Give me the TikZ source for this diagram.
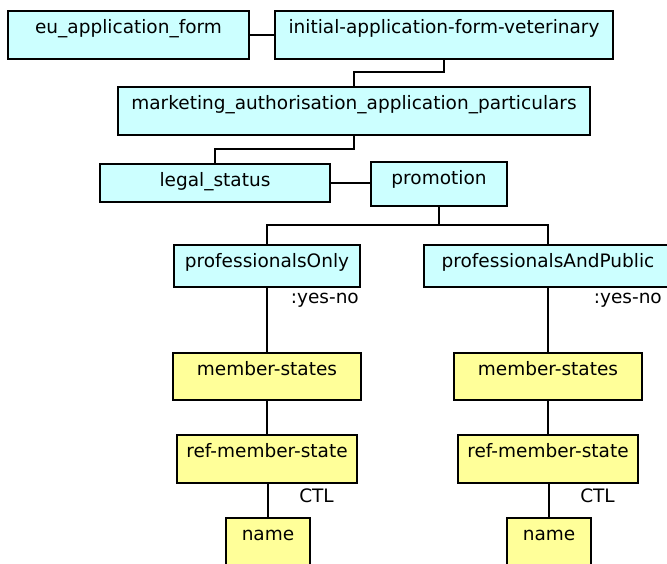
\documentclass[tikz,border=0pt]{standalone}
\usepackage{fontspec}
\setmainfont{DejaVu Sans}
\definecolor{boxcyan}{HTML}{CCFFFF}
\definecolor{boxyellow}{HTML}{FFFF99}
\tikzset{
  box/.style={draw=black, line width=1.6pt, rectangle, inner sep=0pt, outer sep=0pt},
  cyanbox/.style={box, fill=boxcyan},
  yellowbox/.style={box, fill=boxyellow},
  btext/.style={anchor=base, inner sep=0pt, font=\fontsize{18.5}{22}\selectfont},
  conn/.style={draw=black, line width=1.6pt},
  elabel/.style={anchor=base east, inner sep=0pt, font=\fontsize{18.5}{22}\selectfont}
}
\newcommand\mkbox[7]{%
  \node[#6, minimum width={#4-#2}, minimum height={#5-#3}] (#1) at ({(#2+#4)/2},{(#3+#5)/2}) {};
  \node[btext] (#1-t) at ({(#2+#4)/2},{#3+22}) {#7};
}
\begin{document}
\begin{tikzpicture}[x=1pt,y=-1pt]
\useasboundingbox (0,0) rectangle (667,563);
\clip (0,0) rectangle (667,563);
\fill[white] (0,0) rectangle (667,563);
\mkbox{eu}{8}{11}{249}{59}{cyanbox}{eu\_application\_form}
\mkbox{init}{275}{11}{613}{59}{cyanbox}{initial-application-form-veterinary}
\mkbox{mkt}{118}{87}{590}{135}{cyanbox}{marketing\_authorisation\_application\_particulars}
\mkbox{legal}{100}{164}{330}{202}{cyanbox}{legal\_status}
\mkbox{promo}{371}{162}{507}{206}{cyanbox}{promotion}
\mkbox{profO}{174}{245}{360}{287}{cyanbox}{professionalsOnly}
\mkbox{profP}{424}{245}{672}{287}{cyanbox}{professionalsAndPublic}
\mkbox{msL}{173}{353}{361}{400}{yellowbox}{member-states}
\mkbox{msR}{454}{353}{642}{400}{yellowbox}{member-states}
\mkbox{refL}{177}{435}{357}{483}{yellowbox}{ref-member-state}
\mkbox{refR}{458}{435}{638}{483}{yellowbox}{ref-member-state}
\mkbox{nameL}{226}{518}{310}{572}{yellowbox}{name}
\mkbox{nameR}{507}{518}{591}{572}{yellowbox}{name}

\draw[conn] (eu.east) -- (init.west);
\draw[conn] (init.south) -- ++(0,13) -| (mkt.north);
\draw[conn] (mkt.south) -- ++(0,14) -| (legal.north);
\draw[conn] (legal.east) -- (legal.east -| promo.west);
\draw[conn] (promo.south) -- ++(0,19) coordinate (pm) -| (profO.north);
\draw[conn] (pm) -| (profP.north);
\draw[conn] (profO.south) -- (msL.north);
\draw[conn] (msL.south) -- (refL.north);
\draw[conn] (nameL.north |- refL.south) -- (nameL.north);
\draw[conn] (profP.south) -- (msR.north);
\draw[conn] (msR.south) -- (refR.north);
\draw[conn] (nameR.north |- refR.south) -- (nameR.north);

\node[elabel] (ynL) at (359,303) {:yes-no};
\node[elabel] (ynR) at (662,303) {:yes-no};
\node[elabel] (ctlL) at (334,502) {CTL};
\node[elabel] (ctlR) at (615,502) {CTL};
\end{tikzpicture}
\end{document}
